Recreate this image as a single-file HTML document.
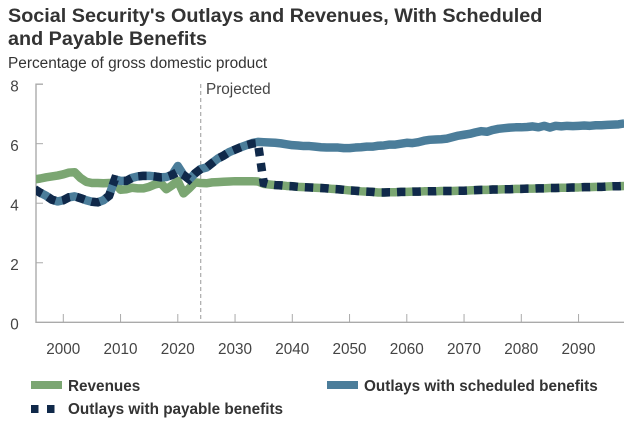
<!DOCTYPE html>
<html>
<head>
<meta charset="utf-8">
<style>
html,body{margin:0;padding:0;background:#fff;}
body{width:631px;height:429px;overflow:hidden;}
svg{display:block;}
text{font-family:"Liberation Sans",sans-serif;}
</style>
</head>
<body>
<svg id="chart" width="631" height="429" viewBox="0 0 631 429" xmlns="http://www.w3.org/2000/svg">
  <text x="8" y="22" font-size="19.8" font-weight="700" fill="#333">Social Security's Outlays and Revenues, With Scheduled</text>
  <text x="8" y="45" font-size="19.8" font-weight="700" fill="#333">and Payable Benefits</text>
  <text x="8" y="68" font-size="15.4" fill="#333">Percentage of gross domestic product</text>
  <g id="axes"></g>
  <g id="marks"></g>
  <g>
    <rect x="31" y="381" width="31" height="8" fill="#7ba672"/>
    <text x="68" y="391" font-size="15.3" font-weight="700" fill="#333">Revenues</text>
    <rect x="327" y="381" width="31" height="8" fill="#4b7d9a"/>
    <text x="364" y="391" font-size="15.3" font-weight="700" fill="#333">Outlays with scheduled benefits</text>
    <rect x="31" y="405" width="7.5" height="8" fill="#10294a"/>
    <rect x="47" y="405" width="7.5" height="8" fill="#10294a"/>
    <text x="68" y="414" font-size="15.3" font-weight="700" fill="#333">Outlays with payable benefits</text>
  </g>
</svg>
<script>
const firstYear = 1995;
const xTickYears = [2000, 2010, 2020, 2030, 2040, 2050, 2060, 2070, 2080, 2090];
const yTickValues = [0, 2, 4, 6, 8];
const projectionYear = 2024;
const revenues = [
  4.80,4.83,4.87,4.90,4.93,4.97,5.03,5.04,4.85,4.72,
  4.68,4.68,4.67,4.68,4.68,4.45,4.47,4.52,4.50,4.50,
  4.55,4.63,4.68,4.47,4.60,4.75,4.33,4.50,4.70,4.68,
  4.67,4.70,4.71,4.72,4.73,4.74,4.74,4.74,4.74,4.73,
  4.65,4.63,4.61,4.60,4.58,4.57,4.55,4.54,4.53,4.52,
  4.51,4.50,4.48,4.47,4.45,4.43,4.42,4.40,4.39,4.38,
  4.36,4.36,4.37,4.37,4.38,4.38,4.39,4.39,4.40,4.40,
  4.40,4.41,4.41,4.41,4.42,4.42,4.43,4.44,4.45,4.45,
  4.46,4.46,4.47,4.47,4.48,4.48,4.49,4.49,4.50,4.50,
  4.51,4.51,4.52,4.52,4.53,4.53,4.54,4.54,4.55,4.55,
  4.56,4.57,4.57,4.58
];
const outlaysScheduled = [
  4.47,4.35,4.25,4.12,4.06,4.10,4.20,4.23,4.17,4.10,
  4.05,4.03,4.10,4.25,4.80,4.75,4.75,4.85,4.90,4.92,
  4.92,4.90,4.87,4.88,4.95,5.25,4.95,4.80,5.00,5.15,
  5.20,5.35,5.50,5.60,5.72,5.80,5.88,5.95,6.02,6.06,
  6.05,6.04,6.03,6.01,5.98,5.95,5.94,5.92,5.92,5.90,
  5.88,5.87,5.87,5.87,5.85,5.85,5.87,5.88,5.90,5.90,
  5.93,5.94,5.97,5.97,6.00,6.03,6.02,6.05,6.10,6.13,
  6.14,6.15,6.17,6.22,6.27,6.30,6.33,6.38,6.42,6.40,
  6.46,6.50,6.52,6.54,6.55,6.55,6.56,6.58,6.55,6.60,
  6.54,6.60,6.58,6.60,6.59,6.60,6.61,6.60,6.62,6.62,
  6.63,6.64,6.65,6.68
];
const outlaysPayable = [
  4.47,4.35,4.25,4.12,4.06,4.10,4.20,4.23,4.17,4.10,
  4.05,4.03,4.10,4.25,4.80,4.75,4.75,4.85,4.90,4.92,
  4.92,4.90,4.87,4.88,4.95,5.05,4.95,4.80,5.00,5.15,
  5.20,5.35,5.50,5.60,5.72,5.80,5.88,5.95,6.00,6.02,
  4.68,4.63,4.61,4.60,4.58,4.57,4.55,4.54,4.53,4.52,
  4.51,4.50,4.48,4.47,4.45,4.43,4.42,4.40,4.39,4.38,
  4.36,4.36,4.37,4.37,4.38,4.38,4.39,4.39,4.40,4.40,
  4.40,4.41,4.41,4.41,4.42,4.42,4.43,4.44,4.45,4.45,
  4.46,4.46,4.47,4.47,4.48,4.48,4.49,4.49,4.50,4.50,
  4.51,4.51,4.52,4.52,4.53,4.53,4.54,4.54,4.55,4.55,
  4.56,4.57,4.57,4.58
];

const NS = 'http://www.w3.org/2000/svg';
const axes = document.getElementById('axes');
const marks = document.getElementById('marks');
const xScale = function (year) { return 63.3 + (year - 2000) * 5.725; };
const yScale = function (value) { return 322.3 - value * 29.77; };

function make(parent, tag, props) {
  const el = document.createElementNS(NS, tag);
  Object.keys(props).forEach(function (k) { el.setAttribute(k, props[k]); });
  parent.appendChild(el);
  return el;
}

const yAxisLine = make(axes, 'path', { d: 'M43 ' + yScale(8) + 'H36V' + yScale(0) + 'H624', fill: 'none', stroke: '#aaa', 'stroke-width': 1.4 });



yTickValues.forEach(function (v) {
  if (v > 0 && v < 8) {
    const t = make(axes, 'line', { x1: 36, x2: 43, y1: yScale(v), y2: yScale(v), stroke: '#aaa', 'stroke-width': 1 });
    
    
  }
  const l = make(axes, 'text', { x: 14.5, y: yScale(v) + 7.2, 'font-size': 15.3, fill: '#444', 'text-anchor': 'middle' });
  l.textContent = v;
  
  
});

xTickYears.forEach(function (y) {
  const t = make(axes, 'line', { x1: xScale(y), x2: xScale(y), y1: 314, y2: 322, stroke: '#aaa', 'stroke-width': 1 });
  
  
  const l = make(axes, 'text', { x: xScale(y), y: 354, 'font-size': 15.3, fill: '#444', 'text-anchor': 'middle' });
  l.textContent = y;
  
  
});

const projLine = make(axes, 'line', { x1: xScale(projectionYear), x2: xScale(projectionYear), y1: 84, y2: 320, stroke: '#aaa', 'stroke-width': 1.2, 'stroke-dasharray': '4 3' });


const projLabel = make(axes, 'text', { x: 206, y: 94, 'font-size': 15.3, fill: '#444' });
projLabel.textContent = 'Projected';



function linePath(values) {
  return values.map(function (v, i) {
    return (i ? 'L' : 'M') + xScale(firstYear + i).toFixed(2) + ' ' + yScale(v).toFixed(2);
  }).join('');
}

const revLine = make(marks, 'path', { d: linePath(revenues), fill: 'none', stroke: '#7ba672', 'stroke-width': 8.5, 'stroke-linejoin': 'round' });


const schedLine = make(marks, 'path', { d: linePath(outlaysScheduled), fill: 'none', stroke: '#4b7d9a', 'stroke-width': 8.5, 'stroke-linejoin': 'round' });


const payLine = make(marks, 'path', { d: linePath(outlaysPayable), fill: 'none', stroke: '#10294a', 'stroke-width': 8.5, 'stroke-dasharray': '8.4 7', 'stroke-linejoin': 'miter' });



const clip = make(document.getElementById('chart'), 'clipPath', { id: 'plot-clip' });
make(clip, 'rect', { x: 36, y: 60, width: 588, height: 270 });
marks.setAttribute('clip-path', 'url(#plot-clip)');
</script>
</body>
</html>
